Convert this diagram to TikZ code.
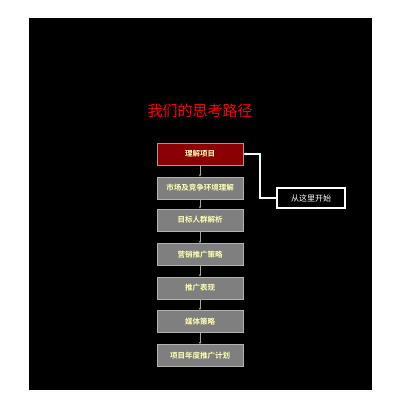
\documentclass[tikz,border=0pt]{standalone}
\usepackage{fontspec}
\newfontfamily\cjk{Noto Sans CJK SC}
\newfontfamily\cjkb{Noto Sans CJK SC Bold}
\usetikzlibrary{arrows.meta}
\definecolor{boxgray}{HTML}{7F7F7F}
\definecolor{boxred}{HTML}{8B0000}
\definecolor{txtyellow}{HTML}{FFFFB8}
\definecolor{linkcyan}{HTML}{E6FFFF}
\begin{document}
\begin{tikzpicture}[x=1pt,y=-1pt,
  stepbox/.style={draw=gray!60, line width=0.6pt, fill=boxgray, minimum width=86pt, minimum height=22pt,
    inner sep=0pt, font=\cjkb\fontsize{7.5}{8}\selectfont, text=txtyellow},
  firstbox/.style={stepbox, fill=boxred, draw=red!30!gray!70},
  flow/.style={draw=gray!70, line width=0.6pt, -{Stealth[length=2.5pt,width=2.5pt]}},
  startbox/.style={draw=white, line width=1.2pt, fill=black, minimum width=68pt, minimum height=20pt,
    inner sep=0pt, font=\cjk\fontsize{8}{9}\selectfont, text=white},
  link/.style={draw=linkcyan, line width=1.2pt, -{Stealth[length=3pt,width=3pt]}}]
\useasboundingbox (0,0) rectangle (400,410);
\fill[white] (0,0) rectangle (400,410);
\fill[black] (29,18) rectangle (372,390);
\node[text=red, font=\cjk\fontsize{15}{17}\selectfont] (title) at (200,111) {我们的思考路径};
\node[firstbox] (s1) at (200,154) {理解项目};
\node[stepbox] (s2) at (200,188) {市场及竞争环境理解};
\node[stepbox] (s3) at (200,220) {目标人群解析};
\node[stepbox] (s4) at (200,254.5) {营销推广策略};
\node[stepbox] (s5) at (200,288) {推广表现};
\node[stepbox] (s6) at (200,321.5) {媒体策略};
\node[stepbox] (s7) at (200,355.5) {项目年度推广计划};
\foreach \a/\b in {s1/s2,s2/s3,s3/s4,s4/s5,s5/s6,s6/s7}
  \draw[flow] (\a.south) -- (\b.north);
\node[startbox] (start) at (311,198) {从这里开始};
\coordinate (bend) at (260,198);
\draw[link] (start.west) -- (bend) |- (s1.east);
\end{tikzpicture}
\end{document}
